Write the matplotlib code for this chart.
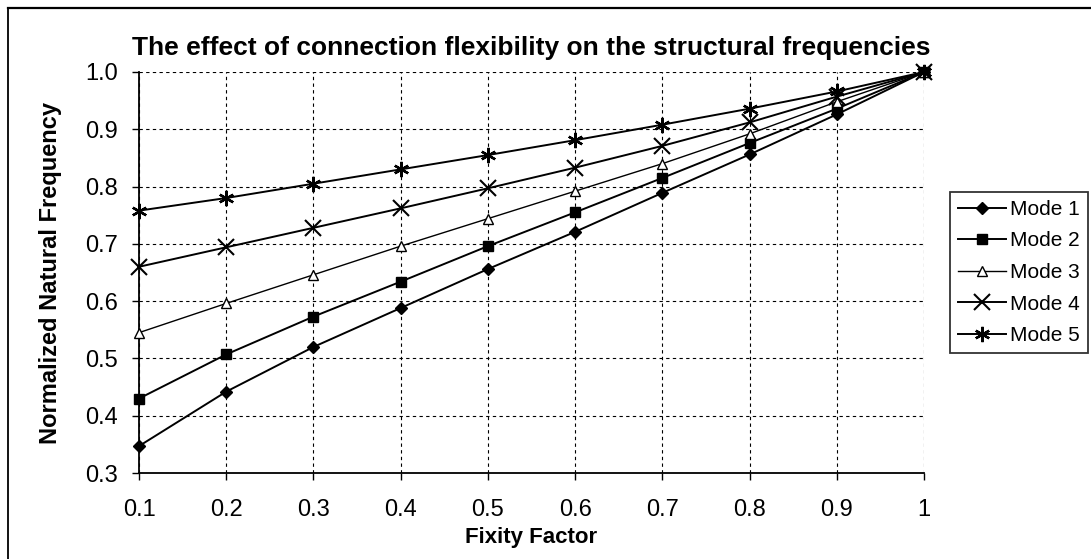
import numpy as np
import matplotlib.pyplot as plt
from matplotlib.lines import Line2D

plt.rcParams['font.family'] = ['Liberation Sans', 'DejaVu Sans']

# data
fixity = [0.1, 0.2, 0.3, 0.4, 0.5, 0.6, 0.7, 0.8, 0.9, 1.0]
mode1 = [0.347, 0.442, 0.520, 0.588, 0.656, 0.721, 0.789, 0.856, 0.926, 1.0]
mode2 = [0.430, 0.507, 0.573, 0.634, 0.696, 0.755, 0.815, 0.876, 0.936, 1.0]
mode3 = [0.545, 0.596, 0.646, 0.696, 0.744, 0.792, 0.840, 0.892, 0.948, 1.0]
mode4 = [0.660, 0.694, 0.728, 0.762, 0.797, 0.833, 0.871, 0.912, 0.957, 1.0]
mode5 = [0.758, 0.780, 0.805, 0.830, 0.855, 0.881, 0.908, 0.936, 0.966, 1.0]
labels = ['Mode 1', 'Mode 2', 'Mode 3', 'Mode 4', 'Mode 5']

fig = plt.figure(figsize=(10.91, 5.59), dpi=100)
ax = fig.add_axes([139/1091, 1 - 473/559, 785/1091, 401/559])

# styles per series
styles = [
    dict(marker='D', markersize=6, mfc='black', lw=1.4),
    dict(marker='s', markersize=7, mfc='black', lw=1.4),
    dict(marker='^', markersize=7, mfc='white', lw=1.0),
    dict(marker='x', markersize=11, mew=1.5, lw=1.4),
    dict(marker=(6, 2, 0), markersize=11, mew=1.7, lw=1.4),
]
series = [mode1, mode2, mode3, mode4, mode5]
for vals, lab, st in zip(series, labels, styles):
    ax.plot(fixity, vals, color='black', mec='black', label=lab,
            clip_on=False, zorder=3, **st)

ax.set_xlim(0.1, 1.0)
ax.set_ylim(0.3, 1.0)
ax.set_xticks(fixity)
ax.set_xticklabels(['0.1', '0.2', '0.3', '0.4', '0.5', '0.6', '0.7', '0.8', '0.9', '1'])
ax.set_yticks(np.arange(0.3, 1.01, 0.1))
ax.set_yticklabels(['0.3', '0.4', '0.5', '0.6', '0.7', '0.8', '0.9', '1.0'])
ax.tick_params(axis='both', labelsize=17, direction='out', length=5,
               width=1, color='black')
ax.tick_params(axis='x', pad=14)
ax.tick_params(axis='y', pad=10)

ax.grid(True, linestyle=(0, (3, 3)), color='black', linewidth=0.8)
ax.spines['top'].set_visible(False)
ax.spines['right'].set_visible(False)
ax.spines['left'].set_linewidth(1.3)
ax.spines['bottom'].set_linewidth(1.3)

ax.set_title('The effect of connection flexibility on the structural frequencies',
             fontsize=19, fontweight='bold', pad=12)
ax.set_xlabel('Fixity Factor', fontsize=16, fontweight='bold', labelpad=4)
ax.set_ylabel('Normalized Natural Frequency', fontsize=17, fontweight='bold', labelpad=17)

leg = ax.legend(loc='center left', bbox_to_anchor=(1.033, 0.5), fontsize=15,
                frameon=True, fancybox=False, edgecolor='black',
                handlelength=2.3, handletextpad=0.2, borderpad=0.4,
                labelspacing=0.6, borderaxespad=0)
leg.get_frame().set_linewidth(1.3)

# outer chart frame
fig.add_artist(Line2D([8/1091, 8/1091], [0, 1 - 8/559], color='black', lw=1.3))
fig.add_artist(Line2D([8/1091, 1], [1 - 8/559, 1 - 8/559], color='black', lw=1.6))

fig.savefig('out.png', dpi=100)
